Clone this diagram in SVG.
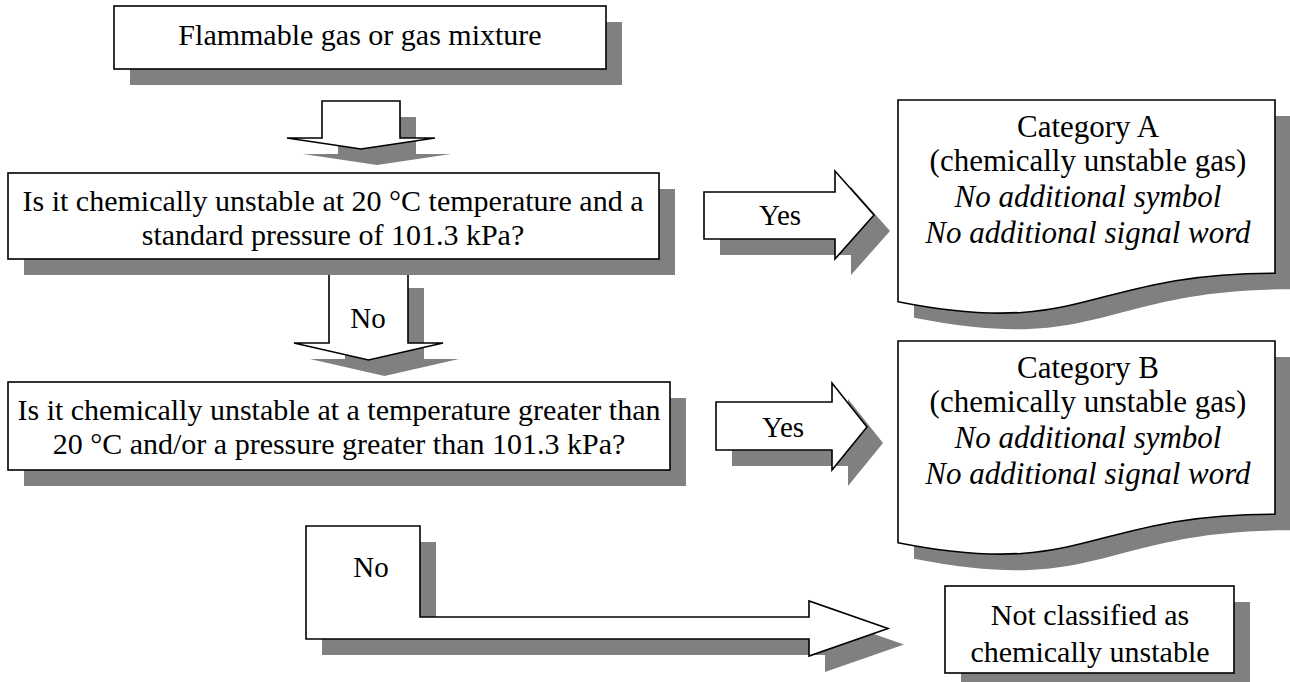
<svg xmlns="http://www.w3.org/2000/svg" width="1290" height="682" viewBox="0 0 1290 682">
  <style>
    .sh { fill: #808080; stroke: none; }
    .fr { fill: #ffffff; stroke: #000000; stroke-width: 1.6; stroke-linejoin: miter; }
    text { font-family: "Liberation Serif", "DejaVu Serif", serif; fill: #000000; text-anchor: middle; }
    .t { font-size: 30px; }
    .c { font-size: 31px; }
    .l { font-size: 29px; }
    .i { font-style: italic; }
  </style>
  <rect width="1290" height="682" fill="#ffffff"/>

  <!-- block arrows between the steps -->
  <g id="connectors">
    <g id="arrow-start-q1">
      <polygon class="sh" transform="translate(16,16)" points="322,101 400,101 400,138 435,138 361,149 287,138 322,138"/>
      <polygon class="fr" points="322,101 400,101 400,138 435,138 361,149 287,138 322,138"/>
    </g>
    <g id="arrow-q1-no">
      <polygon class="sh" transform="translate(16,16)" points="329,272 408,272 408,343 443,343 368.5,360 294,343 329,343"/>
      <polygon class="fr" points="329,272 408,272 408,343 443,343 368.5,360 294,343 329,343"/>
      <text class="l" x="368" y="328">No</text>
    </g>
    <g id="arrow-q1-yes">
      <polygon class="sh" transform="translate(16,16)" points="704,192 835,192 835,171 874,215 835,259 835,239 704,239"/>
      <polygon class="fr" points="704,192 835,192 835,171 874,215 835,259 835,239 704,239"/>
      <text class="l" x="780" y="225">Yes</text>
    </g>
    <g id="arrow-q2-yes">
      <polygon class="sh" transform="translate(16,16)" points="716,402 832,402 832,383 867,427 832,470 832,450 716,450"/>
      <polygon class="fr" points="716,402 832,402 832,383 867,427 832,470 832,450 716,450"/>
      <text class="l" x="783" y="437">Yes</text>
    </g>
    <g id="arrow-q2-no">
      <polygon class="sh" transform="translate(16,16)" points="306,526 420,526 420,617 809,617 809,601 888,628.5 809,656 809,639 306,639"/>
      <polygon class="fr" points="306,526 420,526 420,617 809,617 809,601 888,628.5 809,656 809,639 306,639"/>
      <text class="l" x="371" y="577">No</text>
    </g>
  </g>

  <!-- start -->
  <g id="start">
    <rect class="sh" x="130" y="22" width="492" height="63"/>
    <rect class="fr" x="114" y="6" width="492" height="63"/>
    <text class="t" x="360" y="45">Flammable gas or gas mixture</text>
  </g>

  <!-- question 1 -->
  <g id="q1">
    <rect class="sh" x="24" y="189" width="651" height="86"/>
    <rect class="fr" x="8" y="173" width="651" height="86"/>
    <text class="t" x="333" y="211">Is it chemically unstable at 20 °C temperature and a</text>
    <text class="t" x="333" y="245">standard pressure of 101.3 kPa?</text>
  </g>

  <!-- question 2 -->
  <g id="q2">
    <rect class="sh" x="24" y="398" width="662" height="88"/>
    <rect class="fr" x="8" y="382" width="662" height="88"/>
    <text class="t" x="339" y="420">Is it chemically unstable at a temperature greater than</text>
    <text class="t" x="339" y="454">20 °C and/or a pressure greater than 101.3 kPa?</text>
  </g>

  <!-- result: category A -->
  <g id="category-a">
    <path class="sh" transform="translate(16,16)" d="M898,100 H1275 V273.2 C1086.5,273.2 1086.5,339.1 898,301.7 Z"/>
    <path class="fr" d="M898,100 H1275 V273.2 C1086.5,273.2 1086.5,339.1 898,301.7 Z"/>
    <text class="c" x="1088" y="137">Category A</text>
    <text class="c" x="1088" y="171">(chemically unstable gas)</text>
    <text class="c i" x="1088" y="207">No additional symbol</text>
    <text class="c i" x="1088" y="243">No additional signal word</text>
  </g>

  <!-- result: category B -->
  <g id="category-b">
    <path class="sh" transform="translate(16,16)" d="M898,341 H1275 V514.2 C1086.5,514.2 1086.5,580.1 898,542.7 Z"/>
    <path class="fr" d="M898,341 H1275 V514.2 C1086.5,514.2 1086.5,580.1 898,542.7 Z"/>
    <text class="c" x="1088" y="378">Category B</text>
    <text class="c" x="1088" y="412">(chemically unstable gas)</text>
    <text class="c i" x="1088" y="448">No additional symbol</text>
    <text class="c i" x="1088" y="484">No additional signal word</text>
  </g>

  <!-- result: not classified -->
  <g id="not-classified">
    <rect class="sh" x="961" y="602" width="289" height="87"/>
    <rect class="fr" x="945" y="586" width="289" height="87"/>
    <text class="t" x="1090" y="625">Not classified as</text>
    <text class="t" x="1090" y="662">chemically unstable</text>
  </g>
</svg>
